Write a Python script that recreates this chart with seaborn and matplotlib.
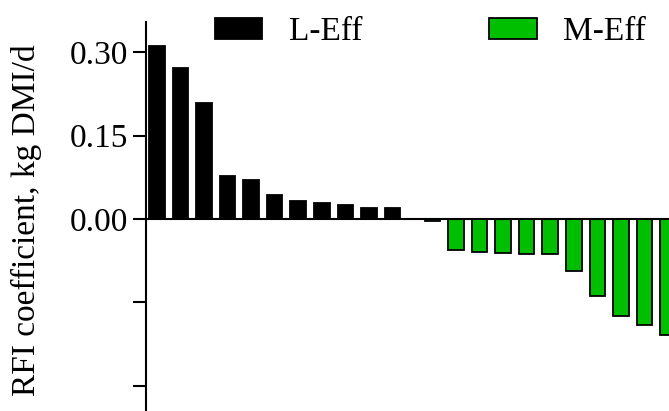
import pandas as pd
import numpy as np
import matplotlib
matplotlib.use('Agg')
import matplotlib.pyplot as plt
from matplotlib.patches import Patch
import seaborn as sb

# RFI coefficients (kg DMI/d)
l_eff = [0.310, 0.271, 0.208, 0.078, 0.070, 0.044, 0.032, 0.029, 0.026, 0.020, 0.019]
m_eff = [-0.003, -0.055, -0.060, -0.061, -0.063, -0.063, -0.094, -0.138, -0.174, -0.190, -0.208]
groups = ['L-Eff', 'M-Eff']
colors = {'L-Eff': '#000000', 'M-Eff': '#00BF00'}
y_ticks = [-0.30, -0.15, 0.00, 0.15, 0.30]
y_ticklabels = ['', '', '0.00', '0.15', '0.30']

# position each animal along x, with a small gap between groups
group_gap = 0.7
rows = []
for g, (name, vals) in enumerate(zip(groups, [l_eff, m_eff])):
    for i, v in enumerate(vals):
        rows.append({'pos': g * (len(l_eff) + group_gap) + i, 'RFI': v, 'group': name})
df = pd.DataFrame(rows)

sb.set_style('ticks')
plt.rcParams['font.family'] = ['Liberation Serif', 'DejaVu Serif']
plt.rcParams['font.size'] = 24
plt.rcParams['text.color'] = 'black'
plt.rcParams['axes.labelcolor'] = 'black'

fig = plt.figure(figsize=(6.69, 4.11), dpi=100)
ax = fig.add_axes([0.218, 0.0, 0.782, 0.9465])

sb.barplot(data=df, x='pos', y='RFI', hue='group', palette=colors, native_scale=True,
           dodge=False, width=0.66, saturation=1, edgecolor='black', linewidth=1.3,
           legend=False, ax=ax)

ax.set_xlim(-0.467, 21.74)
ax.set_ylim(-0.345, 0.354)
ax.set_yticks(y_ticks)
ax.set_yticklabels(y_ticklabels)
ax.tick_params(axis='y', length=9.5, width=1.5, pad=3.5, labelsize=24, colors='black')
ax.set_xticks([])
ax.set_xlabel('')
ax.set_ylabel('RFI coefficient, kg DMI/d', fontsize=24, color='black')
ax.yaxis.set_label_coords(-0.199, 0.491)

for side in ['top', 'right']:
    ax.spines[side].set_visible(False)
ax.spines['bottom'].set_position(('data', 0))
ax.spines['left'].set_linewidth(1.5)
ax.spines['bottom'].set_linewidth(1.5)
ax.spines['left'].set_color('black')
ax.spines['bottom'].set_color('black')

handles = [Patch(facecolor=colors[g], edgecolor='black', linewidth=1.3, label=g) for g in groups]
leg = ax.legend(handles=handles, loc='center left', bbox_to_anchor=(215 / 669, 1 - 32 / 411),
                bbox_transform=fig.transFigure, ncol=2, frameon=False, fontsize=24,
                handlelength=1.42, handleheight=0.6, handletextpad=0.8, columnspacing=3.8,
                borderpad=0, borderaxespad=0)
for t in leg.get_texts():
    t.set_color('black')

fig.savefig('out.png', dpi=100)
